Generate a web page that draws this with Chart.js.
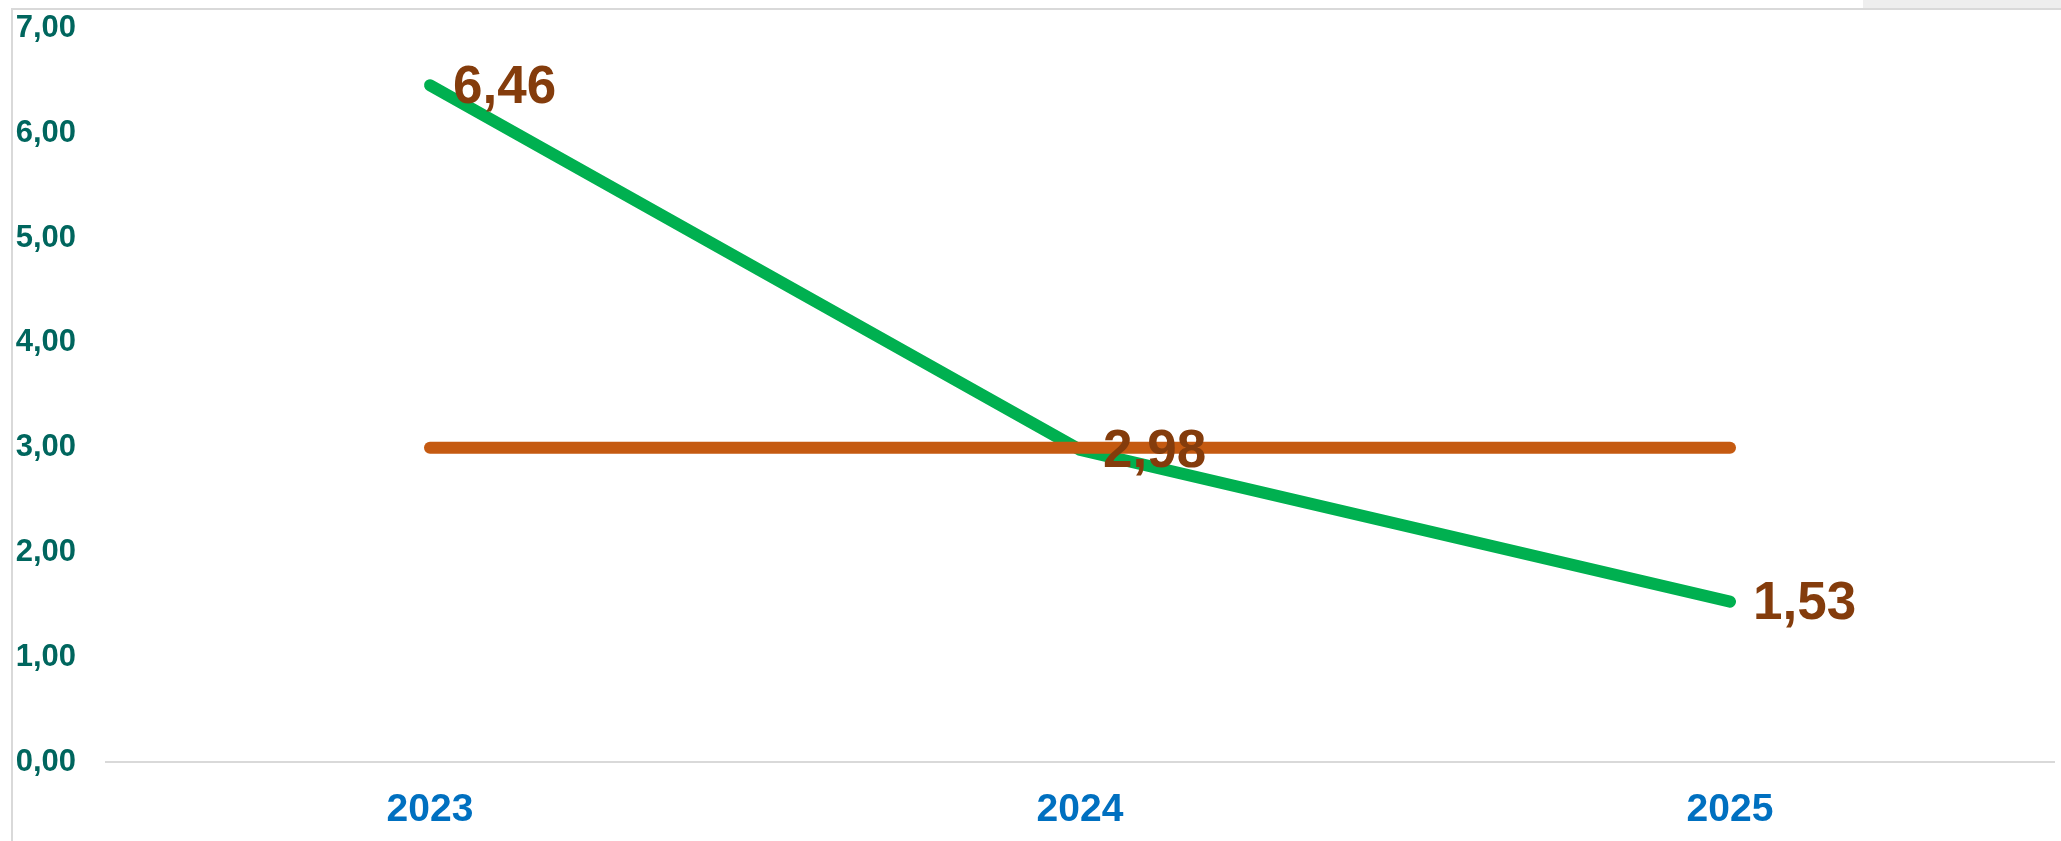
<!DOCTYPE html>
<html>
<head>
<meta charset="utf-8">
<script src="https://cdn.jsdelivr.net/npm/chart.js@4/dist/chart.umd.min.js"></script>
<style>
  html, body { margin: 0; padding: 0; background: #fff; }
  body { width: 2061px; height: 841px; position: relative; overflow: hidden; }
  #okvir { position: absolute; left: 11px; top: 8px; width: 2061px; height: 850px;
           border-left: 2px solid #D9D9D9; border-top: 2px solid #D9D9D9; }
  #siva { position: absolute; left: 1863px; top: 0; width: 198px; height: 8px; background: #EEEEEE; }
  #myChart { position: absolute; left: 0; top: 0; }
</style>
</head>
<body>
<div id="siva"></div>
<div id="okvir"></div>
<canvas id="myChart" width="2061" height="841"></canvas>
<script>
const godine = ['2023', '2024', '2025'];
const vrijednosti = [6.46, 2.98, 1.53];
const cilj = [3.00, 3.00, 3.00];
const yTicks = [0, 1, 2, 3, 4, 5, 6, 7];

function formatBroj(v) {
    return v.toFixed(2).replace('.', ',');
}

// oznake vrijednosti desno od tacaka zelene linije
const oznakePlugin = {
    id: 'oznake',
    afterDatasetsDraw(chart) {
        const ctx = chart.ctx;
        const meta = chart.getDatasetMeta(1);
        ctx.save();
        ctx.font = 'bold 53px Arial, "Liberation Sans", sans-serif';
        ctx.fillStyle = '#843C0C';
        ctx.textAlign = 'left';
        ctx.textBaseline = 'middle';
        meta.data.forEach((pt, i) => {
            ctx.fillText(formatBroj(vrijednosti[i]), pt.x + 23, pt.y + 3);
        });
        ctx.restore();
    }
};

const ctx = document.getElementById('myChart');
const myChart = new Chart(ctx, {
    type: 'line',
    data: {
        labels: godine,
        datasets: [{
            label: 'Cilj',
            data: cilj,
            borderColor: '#C55A11',
            borderWidth: 12,
            borderCapStyle: 'round',
            pointRadius: 0,
            tension: 0
        }, {
            label: 'Vrijednost',
            data: vrijednosti,
            borderColor: '#00B050',
            borderWidth: 12,
            borderCapStyle: 'round',
            pointRadius: 0,
            tension: 0
        }]
    },
    options: {
        responsive: false,
        devicePixelRatio: 1,
        animation: false,
        layout: { padding: { left: 0, right: 6, top: 6, bottom: 0 } },
        plugins: {
            legend: { display: false },
            tooltip: { enabled: false }
        },
        scales: {
            x: {
                offset: true,
                afterFit: (scale) => { scale.height = 79; },
                grid: { display: false },
                border: { display: false },
                ticks: {
                    color: '#0070C0',
                    padding: 17,
                    font: { family: 'Arial, "Liberation Sans", sans-serif', size: 39, weight: 'bold' }
                }
            },
            y: {
                min: 0,
                max: 7,
                afterBuildTicks: (scale) => { scale.ticks = yTicks.map(v => ({ value: v })); },
                afterFit: (scale) => { scale.width = 105; },
                border: { display: false },
                grid: {
                    color: (c) => c.tick && c.tick.value === 0 ? '#D9D9D9' : 'rgba(0,0,0,0)',
                    lineWidth: 2,
                    drawTicks: true,
                    tickLength: 19,
                    tickColor: 'rgba(0,0,0,0)'
                },
                ticks: {
                    color: '#00665E',
                    padding: 10,
                    callback: (v) => formatBroj(v),
                    font: { family: 'Arial, "Liberation Sans", sans-serif', size: 31, weight: 'bold' }
                }
            }
        }
    },
    plugins: [oznakePlugin]
});
</script>
</body>
</html>
